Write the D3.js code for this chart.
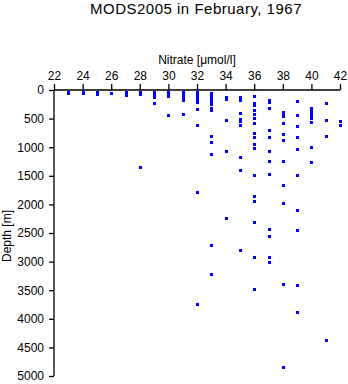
<!DOCTYPE html>
<html>
<head>
<meta charset="utf-8">
<script src="https://cdn.jsdelivr.net/npm/d3@7"></script>
<style>
  html, body { margin: 0; padding: 0; background: #fff; }
  svg { display: block; }
  text { font-family: "Liberation Sans", Arial, Helvetica, sans-serif; fill: #000; }
</style>
</head>
<body>
<svg id="chart" width="348" height="384"></svg>
<script>
// ---- data (nitrate in µmol/l, depth in m) ----
const title = "MODS2005 in February, 1967";
const xLabel = "Nitrate [\u03bcmol/l]";
const yLabel = "Depth [m]";
const xTicks = [22, 24, 26, 28, 30, 32, 34, 36, 38, 40, 42];
const yTicks = [0, 500, 1000, 1500, 2000, 2500, 3000, 3500, 4000, 4500, 5000];

const nitrateLevels = [23, 24, 25, 26, 27, 28, 29, 30, 31, 32, 33, 34, 35, 36, 37, 38, 39, 40, 41, 42];
const depthsByLevel = [
  [0, 15],
  [0, 25],
  [0, 20, 40],
  [10],
  [0, 20, 45],
  [5, 30, 1305],
  [0, 20, 40, 60, 85, 195],
  [0, 20, 40, 65, 395],
  [0, 20, 40, 60, 80, 100, 120, 145, 390],
  [0, 30, 60, 90, 115, 140, 175, 290, 580, 1750, 3705],
  [20, 65, 130, 175, 205, 280, 310, 770, 875, 1085, 2670, 3185],
  [90, 120, 495, 1040, 2210],
  [90, 140, 365, 470, 505, 585, 1130, 1365, 2760],
  [75, 187, 222, 309, 390, 455, 542, 717, 785, 910, 975, 1445, 1815, 1910, 2280, 2880, 3450],
  [146, 175, 274, 670, 780, 1040, 1210, 1440, 2400, 2515, 2890, 2975],
  [350, 385, 420, 542, 740, 845, 1210, 1630, 1940, 3350, 4815],
  [160, 407, 600, 780, 1000, 1455, 2070, 2420, 3380, 3845],
  [285, 320, 355, 390, 425, 460, 530, 965, 1225],
  [195, 495, 772, 4330],
  [508, 580]
];

const points = [];
nitrateLevels.forEach((n, i) => depthsByLevel[i].forEach(d => points.push({n, d})));

// ---- layout ----
const svg = d3.select("#chart");
const x = d3.scaleLinear().domain([22, 42]).range([54, 340]);
const y = d3.scaleLinear().domain([0, 5000]).range([90, 376]);

svg.append("text").attr("x", 196).attr("y", 14).attr("text-anchor", "middle")
  .style("font-size", "15px").style("letter-spacing", "0.5px").text(title);

svg.append("text").attr("x", 197).attr("y", 64).attr("text-anchor", "middle")
  .style("font-size", "12px").text(xLabel);

svg.append("text").attr("transform", "translate(11," + 236 + ") rotate(-90)")
  .attr("text-anchor", "middle").style("font-size", "12px").text(yLabel);

const xAxis = svg.append("g").attr("transform", "translate(0,90)")
  .call(d3.axisTop(x).tickValues(xTicks).tickSize(6).tickPadding(4).tickFormat(d3.format("d")));
const yAxis = svg.append("g").attr("transform", "translate(54,0)")
  .call(d3.axisLeft(y).tickValues(yTicks).tickSize(5).tickPadding(5).tickFormat(d3.format("d")));

[xAxis, yAxis].forEach(g => {
  g.select(".domain").attr("stroke", "#000").attr("stroke-width", 1.3);
  g.selectAll(".tick line").attr("stroke", "#000").attr("stroke-width", 1.3);
  g.selectAll(".tick text").style("font-size", "12px").style("font-family", "'Liberation Sans', Arial, sans-serif").attr("fill", "#000");
});
xAxis.select(".domain").attr("d", "M54,0H340");
yAxis.select(".domain").attr("d", "M0,90V376");

svg.append("g").selectAll("rect").data(points).join("rect")
  .attr("x", p => Math.round(x(p.n)) - 1.5)
  .attr("y", p => Math.round(y(p.d)) + 0.5)
  .attr("width", 3).attr("height", 3)
  .attr("fill", "#0000ff")
  .attr("shape-rendering", "crispEdges");
</script>
</body>
</html>
